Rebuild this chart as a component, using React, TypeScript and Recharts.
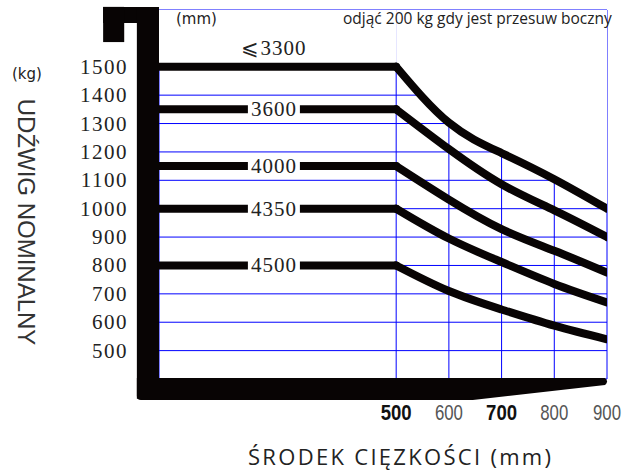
import {
  ComposedChart,
  Line,
  Area,
  XAxis,
  YAxis,
  CartesianGrid,
  ReferenceArea,
  ReferenceDot,
} from "recharts";

const xTicks = [500, 600, 700, 800, 900];
const yTicks = [500, 600, 700, 800, 900, 1000, 1100, 1200, 1300, 1400, 1500];
const boldXTicks = [500, 700];

// lift heights (mm) and their loads
const mastLabels = ["⩽3300", "3600", "4000", "4350", "4500"];
const flatLoad = [1500, 1350, 1150, 1000, 800];
const flatX = [50, 500];
const curveX = [500, 600, 700, 800, 900];
const load3300 = [1500, 1303, 1196, 1104, 1000];
const load3600 = [1350, 1210, 1086, 994, 900];
const load4000 = [1150, 1032, 928, 852, 775];
const load4350 = [1000, 895, 812, 735, 670];
const load4500 = [800, 710, 645, 588, 540];
const curves = [load3300, load3600, load4000, load4350, load4500];

const flatData = flatLoad.map((v) => flatX.map((x) => ({ x, y: v })));
const curveData = curves.map((c) => curveX.map((x, i) => ({ x, y: c[i] })));

const INK = "#080404";

const YTick = (props: any) => {
  const { x, y, payload } = props;
  return (
    <text x={x - 31} y={y + 7} textAnchor="end" fontFamily="'Liberation Serif', serif" fontSize={21} letterSpacing={1.5} fill="#222">
      {payload.value}
    </text>
  );
};

const XTick = (props: any) => {
  const { x, y, payload } = props;
  const bold = boldXTicks.includes(payload.value);
  return (
    <text
      x={x}
      y={y + 41}
      textAnchor="middle"
      fontFamily="'Liberation Sans Narrow', 'Liberation Sans', sans-serif"
      fontSize={22}
      fontWeight={bold ? 700 : 400}
      textLength={bold ? 31 : 28}
      lengthAdjust="spacingAndGlyphs"
      fill={bold ? "#111" : "#555"}
    >
      {payload.value}
    </text>
  );
};

const BaseShape = (props: any) => {
  const { x, y, width: w, height: h } = props;
  const d = `M${x},${y} H${x + w - 3} Q${x + w + 1},${y + 3.5} ${x + w - 3},${y + 7} L${x + 0.713 * w},${y + h} H${x + 4} Q${x},${y + h} ${x},${y + h - 4} Z`;
  return <path d={d} fill={INK} />;
};

const makeLabel = (text: string, above: boolean) => (props: any) => {
  const { cx, cy } = props;
  return (
    <g>
      {!above && <rect x={cx - 26} y={cy - 7} width={52} height={14} fill="#fff" />}
      <text x={cx} y={above ? cy - 12 : cy + 7} textAnchor="middle" fontFamily="'Liberation Serif', 'DejaVu Serif', serif" fontSize={21} letterSpacing={1} fill="#222">
        {text}
      </text>
    </g>
  );
};

const note = (left: number, top: number, font: string, size: number, extra: any = {}) => ({
  position: "absolute" as const,
  left,
  top,
  fontFamily: font,
  fontSize: size,
  lineHeight: 1,
  whiteSpace: "nowrap" as const,
  color: "#222",
  pointerEvents: "none" as const,
  ...extra,
});

export default function App() {
  return (
    <div style={{ position: "absolute", left: 0, top: 0, width: 626, height: 474, background: "#fff" }}>
      <ComposedChart width={626} height={474} margin={{ top: 10, right: 19, left: 0, bottom: 0 }}>
        <CartesianGrid stroke="#0000ff" strokeWidth={1} horizontal vertical />
        <XAxis
          type="number"
          dataKey="x"
          domain={[50, 900]}
          ticks={xTicks}
          interval={0}
          allowDataOverflow
          height={95}
          axisLine={false}
          tickLine={false}
          tickSize={0}
          tickMargin={0}
          tick={<XTick />}
        />
        <YAxis
          type="number"
          domain={[400, 1700]}
          ticks={yTicks}
          interval={0}
          allowDataOverflow
          width={159}
          axisLine={false}
          tickLine={false}
          tickSize={0}
          tickMargin={0}
          tick={<YTick />}
        />
        {/* white fill above the outer curve hides the grid there */}
        <Area data={curveData[0]} dataKey="y" baseValue={1700} type="natural" stroke="none" fill="#fff" fillOpacity={1} isAnimationActive={false} />
        <Area data={flatData[0]} dataKey="y" baseValue={1700} type="linear" stroke="none" fill="#fff" fillOpacity={1} isAnimationActive={false} />
        <ReferenceArea x1={-56} x2={50} y1={1654} y2={1711} fill={INK} fillOpacity={1} stroke="none" ifOverflow="visible" />
        <ReferenceArea x1={-56} x2={-16} y1={1587} y2={1711} fill={INK} fillOpacity={1} stroke="none" ifOverflow="visible" />
        <ReferenceArea x1={8} x2={50} y1={330} y2={1711} fill={INK} fillOpacity={1} stroke="none" ifOverflow="visible" />
        <ReferenceArea x1={8} x2={902} y1={326} y2={403.5} ifOverflow="visible" shape={<BaseShape />} />
        {flatData.map((d, i) => (
          <Line key={"f" + i} data={d} dataKey="y" type="linear" stroke={INK} strokeWidth={8} strokeLinecap="round" dot={false} isAnimationActive={false} />
        ))}
        {curveData.map((d, i) => (
          <Line key={"c" + i} data={d} dataKey="y" type="natural" stroke={INK} strokeWidth={8} strokeLinecap="round" dot={false} isAnimationActive={false} />
        ))}
        {mastLabels.map((t, i) => (
          <ReferenceDot key={"l" + i} x={268} y={flatLoad[i]} r={1} ifOverflow="visible" shape={makeLabel(t, i === 0)} />
        ))}
      </ComposedChart>
      <div style={note(176, 12, "'DejaVu Sans', sans-serif", 15)}>(mm)</div>
      <div style={note(343, 11, "'Open Sans', sans-serif", 15.5)}>odjąć 200 kg gdy jest przesuw boczny</div>
      <div style={note(12, 67, "'DejaVu Sans', sans-serif", 15)}>(kg)</div>
      <div
        style={note(25.5, 222, "'Liberation Sans', sans-serif", 24, {
          color: "#333",
          transform: "translate(-50%, -50%) rotate(90deg)",
        })}
      >
        UDŹWIG NOMINALNY
      </div>
      <div style={note(248, 445, "'Open Sans', sans-serif", 22, { letterSpacing: 2.3 })}>ŚRODEK CIĘZKOŚCI (mm)</div>
    </div>
  );
}
